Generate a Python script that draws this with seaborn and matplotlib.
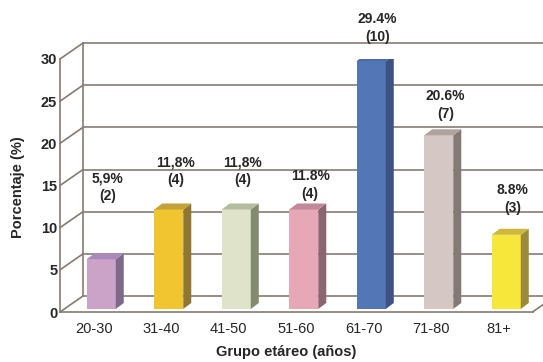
import matplotlib
matplotlib.use("Agg")
import matplotlib.pyplot as plt
from matplotlib.patches import Polygon
import seaborn as sns

AGE_GROUPS = ["20-30", "31-40", "41-50", "51-60", "61-70", "71-80", "81+"]
PERCENT = [5.9, 11.8, 11.8, 11.8, 29.4, 20.6, 8.8]
COUNTS = [2, 4, 4, 4, 10, 7, 3]
PCT_TEXT = ["5,9%", "11,8%", "11,8%", "11.8%", "29.4%", "20.6%", "8.8%"]
Y_TICKS = [0, 5, 10, 15, 20, 25, 30]

FRONT_COLORS = ["#cba3c8", "#f0c52f", "#dfe3c9", "#e6a7b7", "#5376b6", "#d5c7c3", "#f7e73b"]
SIDE_COLORS = ["#7d6a8a", "#8f7633", "#828a70", "#8a6770", "#3d5283", "#857a73", "#9a8a3a"]
TOP_COLORS = ["#a88ab8", "#c4a23a", "#b4bca0", "#c08898", "#4a6aaa", "#b0a29c", "#cdb83a"]
# label centre heights (layout, data units)
LABEL_Y = [14.8, 16.7, 16.7, 15.1, 33.7, 24.5, 13.4]

LINE = "#857b73"
W, H = 543, 362

sns.set_style("white")
plt.rcParams["font.family"] = ["Liberation Sans", "DejaVu Sans"]

fig = plt.figure(figsize=(W / 100, H / 100), dpi=100)
left_px, right_px, top_px, bot_px = 60, 532.5, 59, 312
ax = fig.add_axes([left_px / W, 1 - bot_px / H, (right_px - left_px) / W, (bot_px - top_px) / H])

px_x = (right_px - left_px) / 7.0
px_y = (bot_px - top_px) / 30.0

def dx(p):
    return p / px_x

def dy(p):
    return p / px_y

sns.barplot(x=AGE_GROUPS, y=PERCENT, hue=AGE_GROUPS, palette=FRONT_COLORS,
            width=0.43, saturation=1, legend=False, ax=ax, zorder=3)

ax.set_xlim(-0.5, 6.5)
ax.set_ylim(0, 30)

# back wall / floor in fake 3D
wx, wy = dx(23), dy(16)
kw = dict(color=LINE, lw=1.2, clip_on=False, zorder=1)
for v in Y_TICKS:
    ax.plot([-0.5 + wx, 6.5 + wx], [v + wy, v + wy], **kw)
    ax.plot([-0.5, -0.5 + wx], [v, v + wy], **kw)
ax.plot([-0.5 + wx, -0.5 + wx], [wy, 30 + wy], **kw)
ax.plot([6.5, 6.5 + wx], [0, wy], **kw)

# bars: shift into depth and add side/top faces
bx, by = dx(7.5), dy(3)
sx, sy = dx(8), dy(6)
bars = [p for c in ax.containers for p in c]
for i, p in enumerate(bars):
    p.set_x(p.get_x() + bx)
    p.set_y(by)
    p.set_edgecolor("none")
    x0 = p.get_x()
    x1 = x0 + p.get_width()
    y0 = p.get_y()
    y1 = y0 + p.get_height()
    ax.add_patch(Polygon([(x1, y0), (x1 + sx, y0 + sy), (x1 + sx, y1 + sy), (x1, y1)],
                         closed=True, fc=SIDE_COLORS[i], ec="none", zorder=3))
    ax.add_patch(Polygon([(x0, y1), (x0 + sx, y1 + sy), (x1 + sx, y1 + sy), (x1, y1)],
                         closed=True, fc=TOP_COLORS[i], ec="none", zorder=3))
    ax.text(i + dx(14), LABEL_Y[i], f"{PCT_TEXT[i]}\n({COUNTS[i]})", ha="center", va="center",
            fontsize=10, fontweight="bold", linespacing=1.35, clip_on=False, zorder=5)

for s in ["top", "right"]:
    ax.spines[s].set_visible(False)
for s in ["left", "bottom"]:
    ax.spines[s].set_color(LINE)
    ax.spines[s].set_linewidth(1.2)

ax.set_yticks(Y_TICKS)
ax.set_yticklabels([str(v) for v in Y_TICKS], fontweight="bold", fontsize=10.5)
ax.tick_params(axis="y", direction="in", length=5, width=1.2, color=LINE, pad=2)
ax.set_xticks([i + 0.5 for i in range(6)], minor=True)
ax.set_xticks(range(7))
ax.set_xticklabels(AGE_GROUPS, fontsize=10.5)
ax.tick_params(axis="x", which="major", length=0, pad=7)
ax.tick_params(axis="x", which="minor", direction="out", length=4, width=1.2, color=LINE)
ax.set_xlabel("")
ax.set_ylabel("")

fig.text(286.5 / W, 1 - 352 / H, "Grupo etáreo (años)", ha="center", va="center",
         fontsize=10.5, fontweight="bold")
fig.text(18 / W, 1 - 187 / H, "Porcentaje (%)", ha="center", va="center",
         rotation=90, fontsize=10.5, fontweight="bold")

fig.savefig("out.png", dpi=100)
